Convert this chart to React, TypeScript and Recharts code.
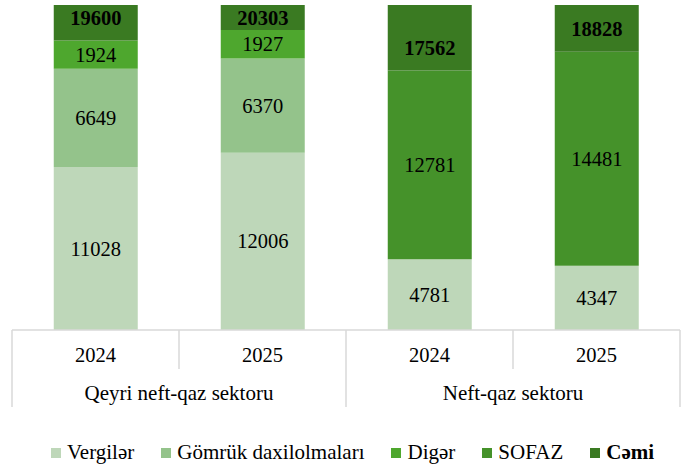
import React from 'react';
import { BarChart, Bar, XAxis, YAxis, Legend, LabelList } from 'recharts';

const categories = ['2024', '2025', '2024', '2025'];
const groups = ['Qeyri neft-qaz sektoru', 'Neft-qaz sektoru'];
const vergiler = [11028, 12006, 4781, 4347];
const gomruk = [6649, 6370, 0, 0];
const diger = [1924, 1927, 0, 0];
const sofaz = [0, 0, 12781, 14481];
const cemi = [19600, 20303, 17562, 18828];
const axisMax = 22000;

const seriesNames = ['Vergilər', 'Gömrük daxilolmaları', 'Digər', 'SOFAZ', 'Cəmi'];
const colors = ['#bed7b9', '#94c38b', '#4ea72e', '#45922a', '#3a7a22'];
const FONT = 'Liberation Serif, Tinos, DejaVu Serif, serif';
const FS = 20.5;
const GRID = '#d9d9d9';

const data = categories.map((c, i) => ({
  key: i,
  year: c,
  vergiler: vergiler[i],
  gomruk: gomruk[i],
  diger: diger[i],
  sofaz: sofaz[i],
  cap: axisMax - cemi[i],
}));

const txt = { fontFamily: FONT, fontSize: FS };

const ValueLabel = (props: any) => {
  const { x, y, width, height, value } = props;
  if (!value) return null;
  return (
    <text x={x + width / 2} y={y + height / 2} textAnchor="middle" dominantBaseline="central"
      style={txt} fill="#000">{value}</text>
  );
};

const CapLabel = (props: any) => {
  const { x, y, width, height, index } = props;
  const cy = Math.max(y + 13, y + height - 23);
  return (
    <text x={x + width / 2} y={cy} textAnchor="middle" dominantBaseline="central"
      style={{ ...txt, fontWeight: 'bold' }} fill="#000">{cemi[index]}</text>
  );
};

const AxisTick = (props: any) => {
  const { x, y, payload, index } = props;
  const half = payload && payload.offset ? payload.offset : 83.5;
  const left = x - half;
  const groupStart = index % 2 === 0;
  const isLast = index === categories.length - 1;
  return (
    <g>
      <line x1={left} x2={left} y1={y} y2={y + (groupStart ? 77 : 39)} stroke={GRID} strokeWidth={1.5} />
      {isLast && <line x1={x + half} x2={x + half} y1={y} y2={y + 77} stroke={GRID} strokeWidth={1.5} />}
      <text x={x} y={y + 32} textAnchor="middle" style={txt} fill="#000">
        {categories[index]}
      </text>
      {groupStart && (
        <text x={x + half} y={y + 70} textAnchor="middle" style={{ ...txt, fontSize: 21 }} fill="#000">
          {groups[index / 2]}
        </text>
      )}
    </g>
  );
};

const LegendContent = () => (
  <div style={{ display: 'flex', alignItems: 'center', height: 25, paddingLeft: 51, fontFamily: FONT, fontSize: 21, color: '#000', whiteSpace: 'nowrap' }}>
    {seriesNames.map((n, i) => (
      <div key={n} style={{ display: 'flex', alignItems: 'center', marginRight: 27 }}>
        <span style={{ display: 'inline-block', width: 10, height: 10, background: colors[i], marginRight: 6 }} />
        <span style={{ fontWeight: i === 4 ? 'bold' : 'normal', lineHeight: '25px' }}>{n}</span>
      </div>
    ))}
  </div>
);

export default function App() {
  return (
    <div style={{ position: 'absolute', left: 0, top: 0, background: '#fff' }}>
      <BarChart width={683} height={465} data={data} margin={{ top: 5, right: 3, left: 12, bottom: 0 }} barCategoryGap="25%">
        <YAxis hide domain={[0, axisMax]} type="number" allowDataOverflow />
        <XAxis dataKey="key" height={110} tickLine={false} tickSize={0} tickMargin={0}
          axisLine={{ stroke: GRID, strokeWidth: 1.5 }} tick={<AxisTick />} interval={0} />
        <Legend verticalAlign="bottom" content={<LegendContent />}
          wrapperStyle={{ left: 0, width: 683, bottom: 0, height: 25 }} />
        <Bar dataKey="vergiler" stackId="a" fill={colors[0]} isAnimationActive={false}>
          <LabelList dataKey="vergiler" content={<ValueLabel />} />
        </Bar>
        <Bar dataKey="gomruk" stackId="a" fill={colors[1]} isAnimationActive={false}>
          <LabelList dataKey="gomruk" content={<ValueLabel />} />
        </Bar>
        <Bar dataKey="diger" stackId="a" fill={colors[2]} isAnimationActive={false}>
          <LabelList dataKey="diger" content={<ValueLabel />} />
        </Bar>
        <Bar dataKey="sofaz" stackId="a" fill={colors[3]} isAnimationActive={false}>
          <LabelList dataKey="sofaz" content={<ValueLabel />} />
        </Bar>
        <Bar dataKey="cap" stackId="a" fill={colors[4]} isAnimationActive={false}>
          <LabelList dataKey="cap" content={<CapLabel />} />
        </Bar>
      </BarChart>
    </div>
  );
}
